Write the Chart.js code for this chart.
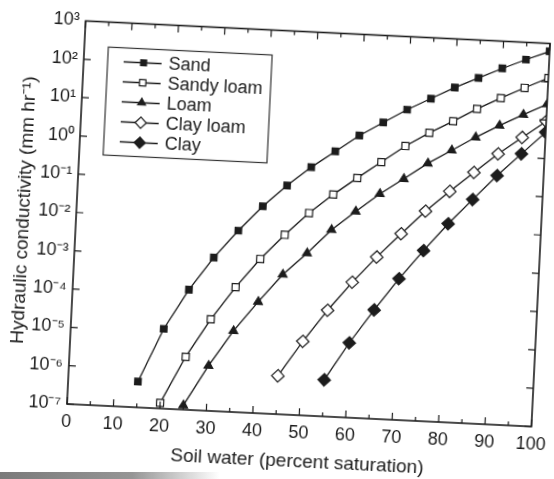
<!DOCTYPE html>
<html>
<head>
<meta charset="utf-8">
<title>Hydraulic conductivity</title>
<style>
    html, body { margin: 0; padding: 0; background: #fff; overflow: hidden; }
    body { width: 554px; height: 479px; position: relative; }
    #chart { position: absolute; left: 0; top: 0; transform: rotate(2.78deg); transform-origin: 67px 404px; }
    .page-edge { position: absolute; left: 0; bottom: 0; width: 220px; height: 7px;
        background: linear-gradient(to right, #7a7a7a 0%, #959595 60%, rgba(255, 255, 255, 0) 100%); }
</style>
<script src="https://cdn.jsdelivr.net/npm/chart.js@4/dist/chart.umd.min.js"></script>
</head>
<body>
<canvas id="chart" width="554" height="479"></canvas>
<div class="page-edge"></div>
<script>
// soil water, percent saturation
const saturation = [15, 20, 25, 30, 35, 40, 45, 50, 55, 60, 65, 70, 75, 80, 85, 90, 95, 100];

// hydraulic conductivity, mm hr-1
const sand = [4.7e-7, 1.2e-5, 1.35e-4, 1.0e-3, 5.4e-3, 2.5e-2, 9.3e-2, 0.30, 0.83, 2.3, 5.4, 12.5, 26, 54, 103, 195, 355, 620];
const sandyLoam = [null, 1.4e-7, 2.4e-6, 2.45e-5, 1.8e-4, 1.05e-3, 4.8e-3, 0.019, 0.062, 0.18, 0.50, 1.4, 3.3, 7.1, 16, 33, 65, 125];
const loam = [null, null, 1.3e-7, 1.5e-6, 1.3e-5, 8.0e-5, 4.4e-4, 1.7e-3, 7.4e-3, 0.024, 0.074, 0.195, 0.53, 1.24, 2.9, 6.3, 13, 26];
const clayLoam = [null, null, null, null, null, null, 1.0e-6, 8.5e-6, 5.9e-5, 3.4e-4, 1.66e-3, 7.2e-3, 0.030, 0.105, 0.35, 1.15, 3.3, 9.3];
const clay = [null, null, null, null, null, null, null, null, 9.0e-7, 8.9e-6, 6.9e-5, 4.8e-4, 2.8e-3, 0.015, 0.069, 0.31, 1.23, 4.8];

const xTickValues = [0, 5, 10, 15, 20, 25, 30, 35, 40, 45, 50, 55, 60, 65, 70, 75, 80, 85, 90, 95, 100];
const yTickValues = [1e-7, 1e-6, 1e-5, 1e-4, 1e-3, 1e-2, 1e-1, 1e0, 1e1, 1e2, 1e3];

const INK = '#1c1c1c';
const FONT = '"Liberation Sans", Arial, Helvetica, sans-serif';
const SUPERSCRIPT = { '-': '\u207B', '0': '\u2070', '1': '\u00B9', '2': '\u00B2', '3': '\u00B3',
    '4': '\u2074', '5': '\u2075', '6': '\u2076', '7': '\u2077', '8': '\u2078', '9': '\u2079' };

function powerLabel(value) {
    const exponent = String(Math.round(Math.log10(value)));

    return '10' + exponent.split('').map((c) => SUPERSCRIPT[c]).join('');
}

function toPoints(values) {
    return saturation
        .map((x, i) => ({ x, y: values[i] }))
        .filter((p) => p.y !== null);
}

function series(label, values, pointStyle, filled, radius) {
    return {
        label,
        data: toPoints(values),
        borderColor: INK,
        borderWidth: 1.3,
        pointStyle,
        pointRadius: radius,
        pointHoverRadius: radius,
        pointBorderWidth: 1.2,
        pointBorderColor: INK,
        pointBackgroundColor: filled ? INK : '#ffffff',
        tension: 0,
    };
}

const framePlugin = {
    id: 'frame',
    afterDatasetsDraw(chart) {
        const { ctx, chartArea: area, scales: { x, y } } = chart;

        ctx.save();
        ctx.strokeStyle = INK;
        ctx.lineWidth = 1.6;
        ctx.strokeRect(area.left, area.top, area.width, area.height);

        ctx.lineWidth = 1.2;
        ctx.beginPath();
        xTickValues.forEach((v) => {
            const px = x.getPixelForValue(v);
            const len = v % 10 === 0 ? 7 : 4;
            ctx.moveTo(px, area.bottom);
            ctx.lineTo(px, area.bottom - len);
            ctx.moveTo(px, area.top);
            ctx.lineTo(px, area.top + len);
        });
        yTickValues.forEach((v) => {
            const py = y.getPixelForValue(v);
            ctx.moveTo(area.left, py);
            ctx.lineTo(area.left + 7, py);
            ctx.moveTo(area.right, py);
            ctx.lineTo(area.right - 7, py);
        });
        ctx.stroke();
        ctx.restore();
    },
};

const boxLegendPlugin = {
    id: 'boxLegend',
    afterDraw(chart) {
        const { ctx, chartArea: area } = chart;
        const left = area.left + 24;
        const top = area.top + 25;

        ctx.save();
        ctx.fillStyle = '#ffffff';
        ctx.fillRect(left, top, 164, 108);
        ctx.strokeStyle = '#333333';
        ctx.lineWidth = 1.2;
        ctx.strokeRect(left, top, 164, 108);

        chart.data.datasets.forEach((ds, i) => {
            const cy = top + 14 + i * 20;

            ctx.strokeStyle = INK;
            ctx.lineWidth = 1.3;
            ctx.beginPath();
            ctx.moveTo(left + 16, cy);
            ctx.lineTo(left + 54, cy);
            ctx.stroke();

            ctx.fillStyle = ds.pointBackgroundColor;
            ctx.lineWidth = ds.pointBorderWidth;
            Chart.helpers.drawPoint(ctx, {
                pointStyle: ds.pointStyle,
                radius: ds.pointRadius * 0.9,
                rotation: 0,
                borderWidth: ds.pointBorderWidth,
            }, left + 36, cy);

            ctx.fillStyle = INK;
            ctx.font = '18px ' + FONT;
            ctx.textAlign = 'left';
            ctx.textBaseline = 'middle';
            ctx.fillText(ds.label, left + 61, cy + 1);
        });
        ctx.restore();
    },
};

new Chart(document.getElementById('chart'), {
    type: 'line',
    data: {
        datasets: [
            series('Sand', sand, 'rect', true, 4.6),
            series('Sandy loam', sandyLoam, 'rect', false, 5),
            series('Loam', loam, 'triangle', true, 5),
            series('Clay loam', clayLoam, 'rectRot', false, 6.2),
            series('Clay', clay, 'rectRot', true, 6.2),
        ],
    },
    options: {
        responsive: false,
        maintainAspectRatio: false,
        animation: false,
        devicePixelRatio: 1,
        events: [],
        layout: {
            padding: { top: 20.5, right: 13.4, bottom: 0, left: 0 },
        },
        plugins: {
            legend: { display: false },
            tooltip: { enabled: false },
        },
        scales: {
            x: {
                type: 'linear',
                min: 0,
                max: 100,
                afterFit(scale) { scale.height = 75; },
                afterBuildTicks(scale) {
                    scale.ticks = xTickValues.filter((v) => v % 10 === 0).map((value) => ({ value }));
                },
                grid: { display: false, drawTicks: false, tickLength: 0 },
                border: { display: false },
                ticks: {
                    color: INK,
                    padding: 7,
                    maxRotation: 0,
                    font: { family: FONT, size: 18 },
                },
                title: {
                    display: true,
                    text: 'Soil water (percent saturation)',
                    color: INK,
                    padding: { top: 0, bottom: 17 },
                    font: { family: FONT, size: 19 },
                },
            },
            y: {
                type: 'logarithmic',
                min: 1e-7,
                max: 1e3,
                afterFit(scale) { scale.width = 67; },
                afterBuildTicks(scale) {
                    scale.ticks = yTickValues.map((value) => ({ value }));
                },
                grid: { display: false, drawTicks: false, tickLength: 0 },
                border: { display: false },
                ticks: {
                    color: INK,
                    padding: 6,
                    font: { family: FONT, size: 18 },
                    callback: (value) => powerLabel(value),
                },
                title: {
                    display: true,
                    text: 'Hydraulic conductivity (mm hr\u207B\u00B9)',
                    color: INK,
                    padding: { top: 3, bottom: 0 },
                    font: { family: FONT, size: 19 },
                },
            },
        },
    },
    plugins: [framePlugin, boxLegendPlugin],
});
</script>
</body>
</html>
